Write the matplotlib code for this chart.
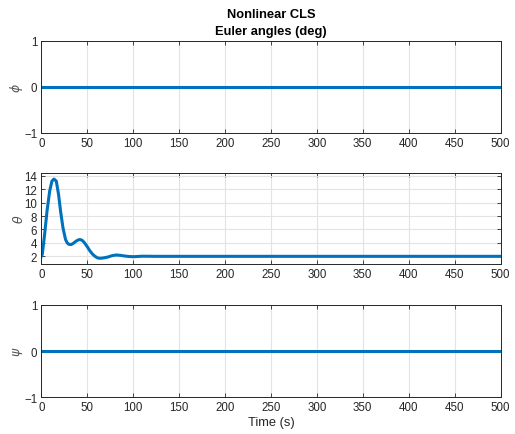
import matplotlib
matplotlib.use("Agg")
import matplotlib.pyplot as plt

# data
t_flat = [0, 500]
phi = [0, 0]
psi = [0, 0]

t_theta = [0, 1.1, 3.6, 6.2, 9.1, 11.6, 13.8, 16.3, 18.8, 21.0, 23.6, 26.4,
           28.3, 30.1, 32.6, 35.0, 38.0, 40.3, 42.4, 44.8, 47.1, 50.0, 52.5,
           55.3, 58.0, 60.5, 62.7, 65.2, 68.5, 72.5, 77.0, 81.5, 86.0, 90.7,
           96.0, 101.0, 110.0, 125.0, 150.0, 500.0]
theta = [2.0, 2.3, 5.26, 8.7, 11.7, 13.2, 13.5, 13.2, 11.2, 8.7, 6.25, 4.5,
         3.98, 3.78, 3.76, 3.95, 4.27, 4.45, 4.5, 4.35, 4.0, 3.45, 2.9,
         2.4, 2.05, 1.82, 1.72, 1.72, 1.78, 1.9, 2.1, 2.2, 2.15, 2.05,
         1.97, 1.95, 2.02, 2.0, 2.0, 2.0]

blue = "#0072BD"
tick_col = "#262626"
fs = 8.3

plt.rcParams["font.family"] = ["Liberation Sans", "DejaVu Sans"]
plt.rcParams["font.size"] = fs

fig = plt.figure(figsize=(5.15, 4.35), dpi=100)
L, W = 41.3 / 515, (500.5 - 41.3) / 515
ax1 = fig.add_axes([L, 1 - 134 / 435, W, 92.3 / 435])
ax2 = fig.add_axes([L, 1 - 265 / 435, W, 91 / 435])
ax3 = fig.add_axes([L, 1 - 398.3 / 435, W, 92.3 / 435])

def style(ax):
    ax.set_xlim(0, 500)
    ax.set_xticks(range(0, 501, 50))
    ax.grid(True, color="#e3e3e3", linewidth=0.8)
    ax.set_axisbelow(True)
    ax.tick_params(direction="in", length=3, width=0.6, colors=tick_col,
                   top=True, right=True, labelsize=fs, pad=3)
    for s in ax.spines.values():
        s.set_color(tick_col)
        s.set_linewidth(0.7)

ax1.plot(t_flat, phi, color=blue, linewidth=2.2)
style(ax1)
ax1.set_ylim(-1, 1)
ax1.set_yticks([-1, 0, 1])
ax1.set_ylabel(r"$\phi$", color="#555555", fontsize=9, labelpad=-1)
ax1.set_title("Nonlinear CLS\nEuler angles (deg)", fontweight="bold",
              fontsize=9.3, color="black", pad=5, linespacing=1.5)

ax2.plot(t_theta, theta, color=blue, linewidth=2.2)
style(ax2)
ax2.set_ylim(0.86, 14.4)
ax2.set_yticks(range(2, 15, 2))
ax2.set_ylabel(r"$\theta$", color="#555555", fontsize=9, labelpad=-1)

ax3.plot(t_flat, psi, color=blue, linewidth=2.2)
style(ax3)
ax3.set_ylim(-1, 1)
ax3.set_yticks([-1, 0, 1])
ax3.set_ylabel(r"$\psi$", color="#555555", fontsize=9, labelpad=-1)
ax3.set_xlabel("Time (s)", color=tick_col, fontsize=9.3, labelpad=2)

fig.savefig("out.png", dpi=100)
